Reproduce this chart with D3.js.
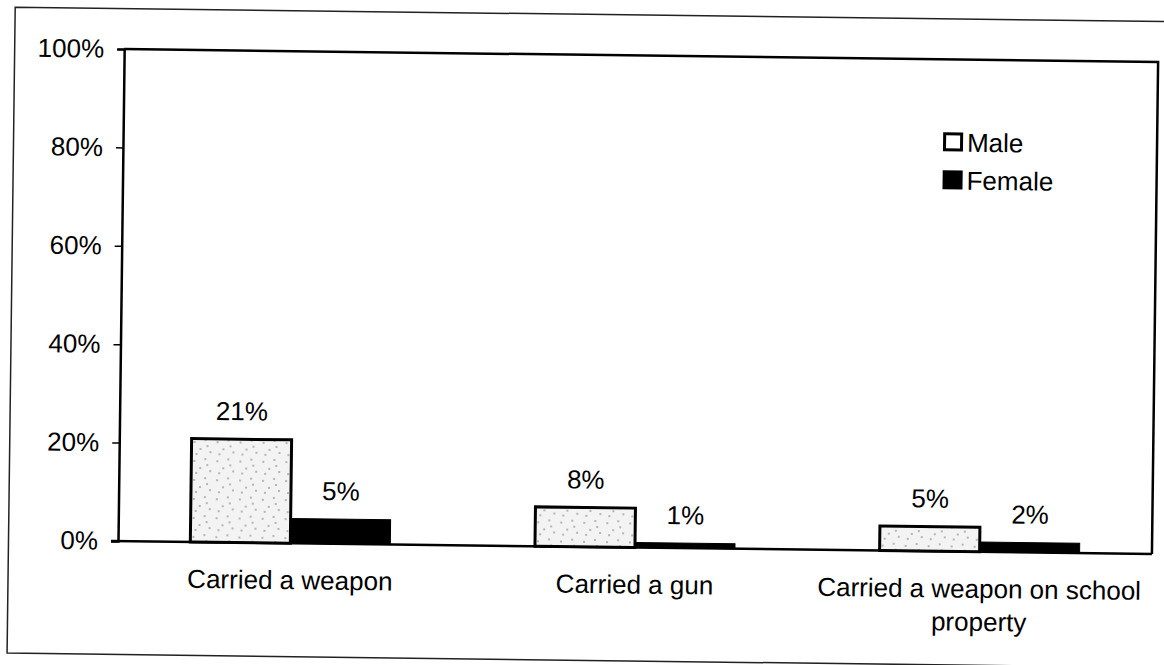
<!DOCTYPE html>
<html>
  <head>
    <meta charset="utf-8">
    <script src="https://d3js.org/d3.v7.min.js"></script>
    <title></title>
    <style>
    body {
      margin: 0;
      background-color: #fff;
    }
    svg {
      display: block;
      font-family: "Liberation Sans", Arial, sans-serif;
    }
    .tick text {
      font-size: 26px;
      fill: #000;
    }
    </style>
  </head>
  <body>
    <script type="text/javascript">
      let categories = ['Carried a weapon', 'Carried a gun', 'Carried a weapon on school property']
      let categoryLines = [['Carried a weapon'], ['Carried a gun'], ['Carried a weapon on school', 'property']]
      let seriesNames = ['Male', 'Female']
      let male = [21, 8, 5]
      let female = [5, 1, 2]
      let yTicks = [0, 20, 40, 60, 80, 100]

      let w = 1164
      let h = 665
      let pLeft = 118, pTop = 49, pRight = 1152, pBottom = 541

      let svg = d3.select('body')
                  .append('svg')
                  .attr('width', w)
                  .attr('height', h)

      // stipple for the male bars
      let defs = svg.append('defs')
      let pat = defs.append('pattern')
                    .attr('id', 'stipple')
                    .attr('patternUnits', 'userSpaceOnUse')
                    .attr('width', 23).attr('height', 19)
      pat.append('rect').attr('width', 23).attr('height', 19).attr('fill', '#f3f3f3')
      let dots = [[3, 4], [14, 2], [9, 11], [19, 14], [5, 16], [16, 8]]
      pat.selectAll('circle').data(dots).enter().append('circle')
         .attr('cx', d => d[0]).attr('cy', d => d[1]).attr('r', 0.8).attr('fill', '#666')

      // the scan is tilted slightly
      let g = svg.append('g').attr('transform', `rotate(0.72, ${pLeft}, ${pBottom})`)

      // outer frame
      g.append('path')
       .attr('d', `M1190,8.5 L8.5,8.5 L8.5,654.5 L1190,654.5`)
       .attr('fill', 'none')
       .attr('stroke', '#222')
       .attr('stroke-width', 1.5)

      let x0 = d3.scaleBand()
                 .domain(categories)
                 .range([pLeft, pRight])
      let x1 = d3.scaleBand()
                 .domain(seriesNames)
                 .range([0, 200])
      let yScale = d3.scaleLinear()
                     .domain([0, 100])
                     .range([pBottom, pTop])

      // plot box
      g.append('path')
       .attr('d', `M${pLeft},${pTop} L${pRight},${pTop} L${pRight},${pBottom}`)
       .attr('fill', 'none')
       .attr('stroke', '#000')
       .attr('stroke-width', 2.5)

      let yAxis = g.append('g')
                   .attr('transform', `translate(${pLeft}, 0)`)
                   .call(d3.axisLeft(yScale).tickValues(yTicks).tickSize(7).tickPadding(13)
                           .tickFormat(d => d + '%'))
      yAxis.attr('font-family', null).attr('font-size', null)
      yAxis.select('.domain').attr('stroke', '#000').attr('stroke-width', 2.5)
      yAxis.selectAll('.tick line').attr('stroke', '#000').attr('stroke-width', 1.5)

      g.append('line')
       .attr('x1', pLeft - 7).attr('x2', pRight)
       .attr('y1', pBottom).attr('y2', pBottom)
       .attr('stroke', '#000').attr('stroke-width', 2.5)

      let rows = categories.map((c, i) => ({cat: c, values: [male[i], female[i]]}))
      let groups = g.selectAll('.grp')
                    .data(rows)
                    .enter()
                    .append('g')
                    .attr('transform', d => `translate(${x0(d.cat) + x0.bandwidth() / 2 - 100}, 0)`)

      groups.selectAll('rect')
            .data(d => d.values.map((v, i) => ({name: seriesNames[i], v: v})))
            .enter()
            .append('rect')
            .attr('x', d => x1(d.name))
            .attr('width', x1.bandwidth())
            .attr('y', d => yScale(d.v))
            .attr('height', d => pBottom - yScale(d.v))
            .attr('fill', d => d.name === 'Male' ? 'url(#stipple)' : '#000')
            .attr('stroke', '#000')
            .attr('stroke-width', d => d.name === 'Male' ? 3 : 1)

      groups.selectAll('.val')
            .data(d => d.values.map((v, i) => ({name: seriesNames[i], v: v})))
            .enter()
            .append('text')
            .attr('x', d => x1(d.name) + x1.bandwidth() / 2)
            .attr('y', d => yScale(d.v) - 19)
            .attr('text-anchor', 'middle')
            .attr('font-size', 26)
            .text(d => d.v + '%')

      // category labels
      categories.forEach((c, i) => {
        let t = g.append('text')
                 .attr('x', x0(c) + x0.bandwidth() / 2)
                 .attr('y', 587)
                 .attr('text-anchor', 'middle')
                 .attr('font-size', 26)
        categoryLines[i].forEach((line, j) => {
          t.append('tspan')
           .attr('x', x0(c) + x0.bandwidth() / 2)
           .attr('dy', j === 0 ? 0 : 33)
           .text(line)
        })
      })

      // legend
      let legend = g.append('g').attr('transform', 'translate(938, 122)')
      seriesNames.forEach((s, i) => {
        legend.append('rect')
              .attr('x', 1.5).attr('y', i * 38 + 1.5)
              .attr('width', 17).attr('height', 16)
              .attr('fill', s === 'Male' ? '#fff' : '#000')
              .attr('stroke', '#000')
              .attr('stroke-width', 3)
        legend.append('text')
              .attr('x', 24).attr('y', i * 38 + 19)
              .attr('font-size', 26)
              .text(s)
      })
    </script>
  </body>
</html>
